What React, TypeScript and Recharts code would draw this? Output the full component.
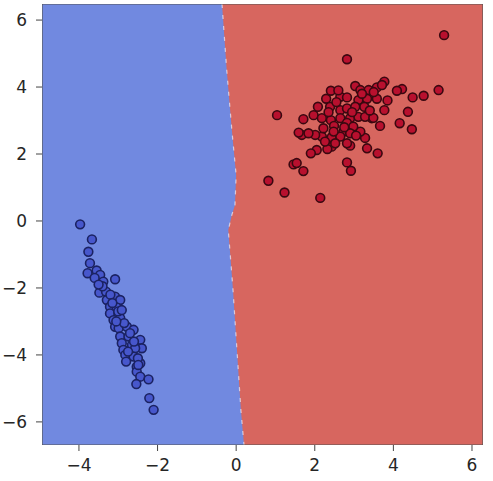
import { ScatterChart, Scatter, XAxis, YAxis } from "recharts"

const X_MIN = -4.94
const X_MAX = 6.28
const Y_MIN = -6.69
const Y_MAX = 6.48

const xTicks = [-4, -2, 0, 2, 4, 6]
const yTicks = [-6, -4, -2, 0, 2, 4, 6]

// decision boundary, top to bottom
const boundaryX = [-0.36, -0.24, -0.11, 0.0, -0.03, -0.11, -0.2, -0.08, 0.02, 0.12, 0.2]
const boundaryY = [6.48, 4.51, 2.72, 1.37, 0.48, 0.18, -0.27, -2.06, -3.85, -5.64, -6.69]

const redX = [
  5.29, 2.82, 1.04, 0.82, 1.23, 2.14, 1.46, 1.71, 1.54, 2.82, 2.92, 5.15, 4.77, 4.49, 4.37, 4.16,
  4.47, 3.77, 4.22, 4.09, 3.6, 3.33, 3.28, 3.16, 3.66, 3.45, 3.77, 2.9, 2.82, 2.43, 2.32, 2.05,
  1.9, 2.18, 2.43, 1.67, 1.59, 1.71, 1.97, 2.08, 2.29, 2.41, 2.18, 2.41, 2.49, 2.39, 2.65, 2.82,
  3.03, 3.16, 3.37, 3.58, 3.71, 3.11, 3.33, 3.58, 2.65, 2.82, 3.03, 3.26, 2.65, 2.9, 3.11, 3.28,
  3.49, 2.82, 2.98, 2.73, 2.9, 2.65, 2.22, 2.01, 1.84, 2.48, 2.26, 2.52, 2.55, 2.95, 3.2, 3.4,
  2.75, 3.05, 2.35, 3.5, 2.6, 3.85,
]
const redY = [
  5.55, 4.83, 3.16, 1.2, 0.85, 0.69, 1.69, 1.49, 1.73, 1.75, 1.5, 3.91, 3.74, 3.69, 3.26, 2.92,
  2.74, 4.16, 3.94, 3.89, 2.02, 2.17, 2.48, 2.67, 2.84, 3.07, 3.31, 2.25, 2.32, 2.22, 2.15, 2.12,
  2.02, 2.52, 2.5, 2.57, 2.64, 3.04, 3.16, 3.41, 3.65, 3.89, 3.07, 3.01, 2.84, 3.41, 3.71, 3.69,
  4.03, 3.91, 3.91, 3.99, 4.06, 3.61, 3.65, 3.65, 3.31, 3.36, 3.41, 3.41, 3.07, 3.07, 3.11, 3.11,
  3.08, 2.93, 2.82, 2.67, 2.62, 2.52, 2.77, 2.57, 2.62, 2.67, 2.37, 2.32, 3.55, 3.25, 3.8, 3.3,
  2.8, 2.55, 3.25, 3.85, 3.9, 3.6,
]

const blueX = [
  -3.97, -3.67, -3.76, -3.72, -3.78, -3.55, -3.46, -3.38, -3.08, -3.48, -3.31, -3.29, -3.08, -2.95,
  -3.21, -3.04, -3.21, -2.99, -3.12, -2.95, -3.08, -2.99, -2.78, -2.61, -2.95, -2.74, -2.44, -2.91,
  -2.65, -2.4, -2.87, -2.57, -2.82, -2.61, -2.8, -2.53, -2.44, -2.53, -2.44, -2.23, -2.54, -2.21,
  -2.1, -3.6, -3.4, -3.2, -3.15, -3.0, -2.85, -2.7, -2.6, -2.75, -2.5, -2.91, -2.49, -3.5, -3.05,
]
const blueY = [
  -0.1, -0.55, -0.92, -1.26, -1.56, -1.48, -1.61, -1.81, -1.74, -2.14, -2.11, -2.36, -2.26, -2.36,
  -2.56, -2.58, -2.76, -2.76, -2.96, -2.9, -3.16, -3.2, -3.16, -3.25, -3.45, -3.45, -3.55, -3.65,
  -3.7, -3.8, -3.85, -3.8, -4.0, -4.05, -4.2, -4.35, -4.25, -4.5, -4.65, -4.73, -4.87, -5.29,
  -5.64, -1.7, -1.95, -2.2, -2.45, -2.7, -3.05, -3.35, -3.6, -3.9, -4.1, -2.66, -4.3, -1.9, -3.0,
]

const zip = (xs: number[], ys: number[]) => xs.map((x, i) => ({ x, y: ys[i] }))

const corners = [
  { x: X_MIN, y: Y_MAX },
  { x: X_MAX, y: Y_MAX },
  { x: X_MAX, y: Y_MIN },
  { x: X_MIN, y: Y_MIN },
]
const boundary = zip(boundaryX, boundaryY)
const redRegion = [...boundary, { x: X_MAX, y: Y_MIN }, { x: X_MAX, y: Y_MAX }]
const redPoints = zip(redX, redY)
const bluePoints = zip(blueX, blueY)

const BLUE_BG = "#7189e0"
const RED_BG = "#d7665f"

const path = (fill: string, stroke = "none", close = true, dash?: string, opacity = 1) =>
  (props: any) => {
    const pts = props.points || []
    if (!pts.length) return <g />
    const d = pts.map((p: any, i: number) => `${i ? "L" : "M"}${p.x},${p.y}`).join(" ") + (close ? " Z" : "")
    return (
      <path d={d} fill={fill} stroke={stroke} strokeWidth={1.2} strokeDasharray={dash} strokeOpacity={opacity} />
    )
  }

const hidden = () => <g />

const dot = (fill: string, edge: string) => (props: any) =>
  <circle cx={props.cx} cy={props.cy} r={4.4} fill={fill} stroke={edge} strokeWidth={1.6} />

const fmt = (v: number) => (v < 0 ? `\u2212${-v}` : `${v}`)

const tickStyle = { fill: "#262626", fontSize: 17, fontFamily: "DejaVu Sans" }

export default function App() {
  return (
    <div style={{ position: "absolute", left: 0, top: 0 }}>
      <ScatterChart width={493} height={481} margin={{ top: 4, right: 10, left: 0, bottom: 0 }}>
        <XAxis
          type="number"
          dataKey="x"
          domain={[X_MIN, X_MAX]}
          allowDataOverflow
          ticks={xTicks}
          tickFormatter={fmt}
          height={36}
          axisLine={false}
          tickSize={6}
          tickMargin={8}
          tickLine={{ stroke: "#444" }}
          tick={tickStyle}
        />
        <YAxis
          type="number"
          dataKey="y"
          domain={[Y_MIN, Y_MAX]}
          allowDataOverflow
          ticks={yTicks}
          tickFormatter={fmt}
          width={42}
          axisLine={false}
          tickSize={6}
          tickMargin={9}
          tickLine={{ stroke: "#444" }}
          tick={tickStyle}
        />
        <Scatter data={corners} shape={hidden} line={path(BLUE_BG)} isAnimationActive={false} />
        <Scatter data={redRegion} shape={hidden} line={path(RED_BG)} isAnimationActive={false} />
        <Scatter
          data={boundary}
          shape={hidden}
          line={path("none", "#ffffff", false, "4 7", 0.6)}
          isAnimationActive={false}
        />
        <Scatter data={corners} shape={hidden} line={path("none", "#555")} isAnimationActive={false} />
        <Scatter data={bluePoints} shape={dot("#4757cc", "#1b2262")} isAnimationActive={false} />
        <Scatter data={redPoints} shape={dot("#b8102e", "#3a0810")} isAnimationActive={false} />
      </ScatterChart>
    </div>
  )
}
